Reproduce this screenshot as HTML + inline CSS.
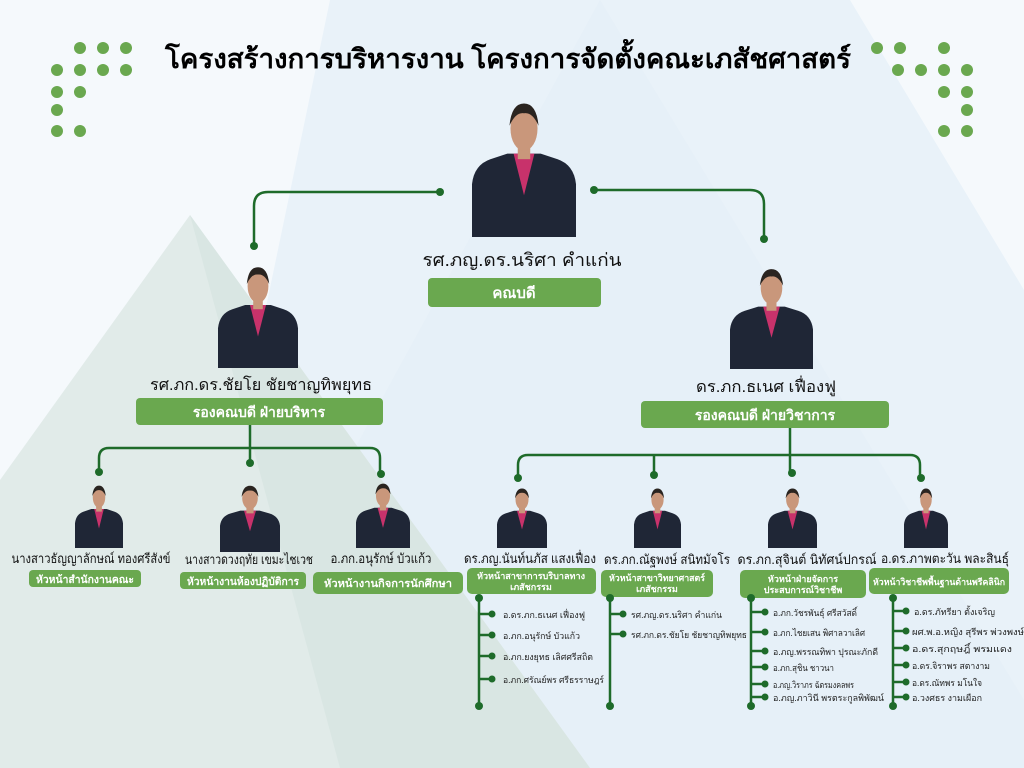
<!DOCTYPE html>
<html><head><meta charset="utf-8"><style>
html,body{margin:0;padding:0;background:#f3f8fc;}
svg{display:block;font-family:"Liberation Sans","DejaVu Sans",sans-serif;}
.nm{font-size:13px;fill:#111;text-anchor:middle;}
.bx{fill:#6aa84f;}
.bt{fill:#fff;font-weight:bold;text-anchor:middle;}
.it{font-size:9px;fill:#222;}
.ln{stroke:#1e6b2a;stroke-width:2.5;fill:none;}
.dt{fill:#1e6b2a;}
</style></head><body>
<svg width="1024" height="768" viewBox="0 0 1024 768" xmlns="http://www.w3.org/2000/svg">
<defs>
<g id="p">
 <path d="M0 100 L0 62 Q2 48 18 44 L34 40 L66 40 L82 44 Q98 48 100 62 L100 100 Z" fill="#1f2636"/>
 <path d="M40 40 L50 70 L60 40 Z" fill="#c8326b"/>
 <rect x="44" y="30" width="12" height="14" fill="#c9977b"/>
 <ellipse cx="50" cy="22" rx="13" ry="16" fill="#c9977b"/>
 <path d="M36 20 Q38 4 50 4 Q62 4 64 20 Q58 10 50 11 Q42 10 36 20Z" fill="#2a2420"/>
</g>
</defs>
<rect width="1024" height="768" fill="#f5f9fc"/>
<polygon points="330,0 850,0 1024,290 1024,768 170,768" fill="#e9f2f9"/>
<polygon points="600,0 1024,700 1024,768 180,768" fill="#e4eef7" opacity="0.6"/>
<polygon points="190,215 0,480 0,768 590,768" fill="#e1ebe9"/>
<polygon points="190,215 340,768 590,768" fill="#d9e6e3"/>

<text x="508" y="68" font-size="27" font-weight="bold" text-anchor="middle" fill="#000" textLength="686" lengthAdjust="spacingAndGlyphs">โครงสร้างการบริหารงาน โครงการจัดตั้งคณะเภสัชศาสตร์</text>
<g fill="#6aa84f">
<circle cx="80" cy="48" r="6"/><circle cx="103" cy="48" r="6"/><circle cx="126" cy="48" r="6"/>
<circle cx="57" cy="70" r="6"/><circle cx="80" cy="70" r="6"/><circle cx="103" cy="70" r="6"/><circle cx="126" cy="70" r="6"/>
<circle cx="57" cy="92" r="6"/><circle cx="80" cy="92" r="6"/>
<circle cx="57" cy="110" r="6"/>
<circle cx="57" cy="131" r="6"/><circle cx="80" cy="131" r="6"/>
<circle cx="877" cy="48" r="6"/><circle cx="900" cy="48" r="6"/><circle cx="944" cy="48" r="6"/>
<circle cx="898" cy="70" r="6"/><circle cx="921" cy="70" r="6"/><circle cx="944" cy="70" r="6"/><circle cx="967" cy="70" r="6"/>
<circle cx="944" cy="92" r="6"/><circle cx="967" cy="92" r="6"/>
<circle cx="967" cy="110" r="6"/>
<circle cx="944" cy="131" r="6"/><circle cx="967" cy="131" r="6"/>
</g>

<use href="#p" transform="translate(472,98) scale(1.04,1.39)"/>
<text class="nm" x="522" y="266" style="font-size:18px" textLength="199" lengthAdjust="spacingAndGlyphs">รศ.ภญ.ดร.นริศา คำแก่น</text>
<rect class="bx" x="428" y="278" width="173" height="29" rx="4"/>
<text class="bt" x="514" y="298" font-size="15">คณบดี</text>
<path class="ln" d="M440 192 H268 Q254 192 254 206 V246"/>
<path class="ln" d="M594 190 H750 Q764 190 764 204 V239"/>
<circle class="dt" cx="440" cy="192" r="4"/><circle class="dt" cx="254" cy="246" r="4"/>
<circle class="dt" cx="594" cy="190" r="4"/><circle class="dt" cx="764" cy="239" r="4"/>

<use href="#p" transform="translate(218,263) scale(0.8,1.05)"/>
<text class="nm" x="261" y="390" style="font-size:16px" textLength="222" lengthAdjust="spacingAndGlyphs">รศ.ภก.ดร.ชัยโย ชัยชาญทิพยุทธ</text>
<rect class="bx" x="136" y="398" width="247" height="27" rx="4"/>
<text class="bt" x="259" y="417" font-size="14">รองคณบดี ฝ่ายบริหาร</text>
<use href="#p" transform="translate(730,265) scale(0.83,1.04)"/>
<text class="nm" x="766" y="392" style="font-size:16px" textLength="140" lengthAdjust="spacingAndGlyphs">ดร.ภก.ธเนศ เฟื่องฟู</text>
<rect class="bx" x="641" y="401" width="248" height="27" rx="4"/>
<text class="bt" x="765" y="420" font-size="14">รองคณบดี ฝ่ายวิชาการ</text>

<path class="ln" d="M250 425 V463"/>
<path class="ln" d="M99 472 V458 Q99 448 109 448 H370 Q380 448 380 458 V474"/>
<circle class="dt" cx="99" cy="472" r="4"/><circle class="dt" cx="250" cy="463" r="4"/><circle class="dt" cx="381" cy="474" r="4"/>
<use href="#p" transform="translate(75,483) scale(0.48,0.65)"/>
<use href="#p" transform="translate(220,483) scale(0.6,0.69)"/>
<use href="#p" transform="translate(356,481) scale(0.54,0.67)"/>
<text class="nm" x="91" y="563" textLength="159" lengthAdjust="spacingAndGlyphs">นางสาวธัญญาลักษณ์ ทองศรีสังข์</text>
<text class="nm" x="249" y="564" textLength="128" lengthAdjust="spacingAndGlyphs">นางสาวดวงฤทัย เขมะไชเวช</text>
<text class="nm" x="381" y="563" textLength="101" lengthAdjust="spacingAndGlyphs">อ.ภก.อนุรักษ์ บัวแก้ว</text>
<rect class="bx" x="29" y="570" width="112" height="17" rx="4"/><text class="bt" x="85" y="583" font-size="10.5" textLength="98" lengthAdjust="spacingAndGlyphs">หัวหน้าสำนักงานคณะ</text>
<rect class="bx" x="180" y="572" width="126" height="17" rx="4"/><text class="bt" x="243" y="585" font-size="10.5" textLength="112" lengthAdjust="spacingAndGlyphs">หัวหน้างานห้องปฏิบัติการ</text>
<rect class="bx" x="313" y="572" width="150" height="22" rx="5"/><text class="bt" x="388" y="587" font-size="10.5" textLength="128" lengthAdjust="spacingAndGlyphs">หัวหน้างานกิจการนักศึกษา</text>

<path class="ln" d="M790 428 V472"/>
<path class="ln" d="M518 478 V465 Q518 455 528 455 H910 Q920 455 920 465 V478"/>
<path class="ln" d="M654 455 V475"/>
<circle class="dt" cx="518" cy="478" r="4"/><circle class="dt" cx="654" cy="475" r="4"/><circle class="dt" cx="792" cy="473" r="4"/><circle class="dt" cx="921" cy="478" r="4"/>
<use href="#p" transform="translate(497,486) scale(0.5,0.62)"/>
<use href="#p" transform="translate(634,486) scale(0.47,0.62)"/>
<use href="#p" transform="translate(768,486) scale(0.49,0.62)"/>
<use href="#p" transform="translate(904,486) scale(0.44,0.62)"/>
<text class="nm" x="530" y="563" textLength="132" lengthAdjust="spacingAndGlyphs">ดร.ภญ.นันท์นภัส แสงเฟื่อง</text>
<text class="nm" x="667" y="564" textLength="126" lengthAdjust="spacingAndGlyphs">ดร.ภก.ณัฐพงษ์ สนิทมัจโร</text>
<text class="nm" x="807" y="564" textLength="139" lengthAdjust="spacingAndGlyphs">ดร.ภก.สุจินต์ นิทัศน์ปกรณ์</text>
<text class="nm" x="945" y="563" textLength="128" lengthAdjust="spacingAndGlyphs">อ.ดร.ภาพตะวัน พละสินธุ์</text>
<rect class="bx" x="467" y="568" width="129" height="26" rx="5"/>
<text class="bt" x="531" y="579" font-size="9" textLength="108" lengthAdjust="spacingAndGlyphs">หัวหน้าสาขาการบริบาลทาง</text><text class="bt" x="531" y="590" font-size="9">เภสัชกรรม</text>
<rect class="bx" x="601" y="570" width="112" height="27" rx="5"/>
<text class="bt" x="657" y="581" font-size="9" textLength="96" lengthAdjust="spacingAndGlyphs">หัวหน้าสาขาวิทยาศาสตร์</text><text class="bt" x="657" y="592" font-size="9">เภสัชกรรม</text>
<rect class="bx" x="740" y="570" width="126" height="28" rx="5"/>
<text class="bt" x="803" y="582" font-size="9">หัวหน้าฝ่ายจัดการ</text><text class="bt" x="803" y="593" font-size="9">ประสบการณ์วิชาชีพ</text>
<rect class="bx" x="869" y="568" width="140" height="26" rx="5"/>
<text class="bt" x="939" y="585" font-size="9" textLength="132" lengthAdjust="spacingAndGlyphs">หัวหน้าวิชาชีพพื้นฐานด้านพรีคลินิก</text>

<g>
<path class="ln" d="M479 598 V706"/><circle class="dt" cx="479" cy="598" r="4"/><circle class="dt" cx="479" cy="706" r="4"/>
<path class="ln" d="M479 614 H492 M479 635 H492 M479 656 H492 M479 679 H492"/>
<circle class="dt" cx="492" cy="614" r="3.5"/><circle class="dt" cx="492" cy="635" r="3.5"/><circle class="dt" cx="492" cy="656" r="3.5"/><circle class="dt" cx="492" cy="679" r="3.5"/>
<text class="it" x="503" y="618" textLength="82" lengthAdjust="spacingAndGlyphs">อ.ดร.ภก.ธเนศ เฟื่องฟู</text>
<text class="it" x="503" y="639" textLength="77" lengthAdjust="spacingAndGlyphs">อ.ภก.อนุรักษ์ บัวแก้ว</text>
<text class="it" x="503" y="660" textLength="90" lengthAdjust="spacingAndGlyphs">อ.ภก.ยงยุทธ เลิศศรีสถิต</text>
<text class="it" x="503" y="683" textLength="101" lengthAdjust="spacingAndGlyphs">อ.ภก.ศรัณย์พร ศรีธรราษฎร์</text>

<path class="ln" d="M610 598 V706"/><circle class="dt" cx="610" cy="598" r="4"/><circle class="dt" cx="610" cy="706" r="4"/>
<path class="ln" d="M610 614 H623 M610 634 H623"/>
<circle class="dt" cx="623" cy="614" r="3.5"/><circle class="dt" cx="623" cy="634" r="3.5"/>
<text class="it" x="631" y="618" textLength="91" lengthAdjust="spacingAndGlyphs">รศ.ภญ.ดร.นริศา คำแก่น</text>
<text class="it" x="631" y="638" textLength="116" lengthAdjust="spacingAndGlyphs">รศ.ภก.ดร.ชัยโย ชัยชาญทิพยุทธ</text>

<path class="ln" d="M751 598 V706"/><circle class="dt" cx="751" cy="598" r="4"/><circle class="dt" cx="751" cy="706" r="4"/>
<path class="ln" d="M751 612 H765 M751 632 H765 M751 651 H765 M751 667 H765 M751 684 H765 M751 697 H765"/>
<circle class="dt" cx="765" cy="612" r="3.5"/><circle class="dt" cx="765" cy="632" r="3.5"/><circle class="dt" cx="765" cy="651" r="3.5"/><circle class="dt" cx="765" cy="667" r="3.5"/><circle class="dt" cx="765" cy="684" r="3.5"/><circle class="dt" cx="765" cy="697" r="3.5"/>
<text class="it" x="773" y="616" textLength="84" lengthAdjust="spacingAndGlyphs">อ.ภก.วัชรพันธุ์ ศรีสวัสดิ์</text>
<text class="it" x="773" y="636" textLength="92" lengthAdjust="spacingAndGlyphs">อ.ภก.ไชยเสน พิศาลวาเลิศ</text>
<text class="it" x="773" y="655" textLength="105" lengthAdjust="spacingAndGlyphs">อ.ภญ.พรรณทิพา ปุรณะภักดี</text>
<text class="it" x="773" y="671" textLength="61" lengthAdjust="spacingAndGlyphs">อ.ภก.สุชิน ชาวนา</text>
<text class="it" x="773" y="688" textLength="81" lengthAdjust="spacingAndGlyphs">อ.ภญ.วิราภร ฉัตรมงคลพร</text>
<text class="it" x="773" y="701" textLength="111" lengthAdjust="spacingAndGlyphs">อ.ภญ.ภาวินี  พรตระกูลพิพัฒน์</text>

<path class="ln" d="M893 598 V706"/><circle class="dt" cx="893" cy="598" r="4"/><circle class="dt" cx="893" cy="706" r="4"/>
<path class="ln" d="M893 611 H906 M893 631 H906 M893 648 H906 M893 665 H906 M893 682 H906 M893 697 H906"/>
<circle class="dt" cx="906" cy="611" r="3.5"/><circle class="dt" cx="906" cy="631" r="3.5"/><circle class="dt" cx="906" cy="648" r="3.5"/><circle class="dt" cx="906" cy="665" r="3.5"/><circle class="dt" cx="906" cy="682" r="3.5"/><circle class="dt" cx="906" cy="697" r="3.5"/>
<text class="it" x="914" y="615" textLength="81" lengthAdjust="spacingAndGlyphs">อ.ดร.ภัทรียา ตั้งเจริญ</text>
<text class="it" x="912" y="635" textLength="112" lengthAdjust="spacingAndGlyphs">ผศ.พ.อ.หญิง สุรีพร พ่วงพงษ์</text>
<text class="it" x="912" y="652" textLength="100" lengthAdjust="spacingAndGlyphs">อ.ดร.สุกฤษฎิ์ พรมแดง</text>
<text class="it" x="912" y="669" textLength="78" lengthAdjust="spacingAndGlyphs">อ.ดร.จิราพร สตางาม</text>
<text class="it" x="912" y="686" textLength="70" lengthAdjust="spacingAndGlyphs">อ.ดร.ณัทพร มโนใจ</text>
<text class="it" x="912" y="701" textLength="70" lengthAdjust="spacingAndGlyphs">อ.วงศธร งามเผือก</text>
</g>
</svg>
</body></html>
